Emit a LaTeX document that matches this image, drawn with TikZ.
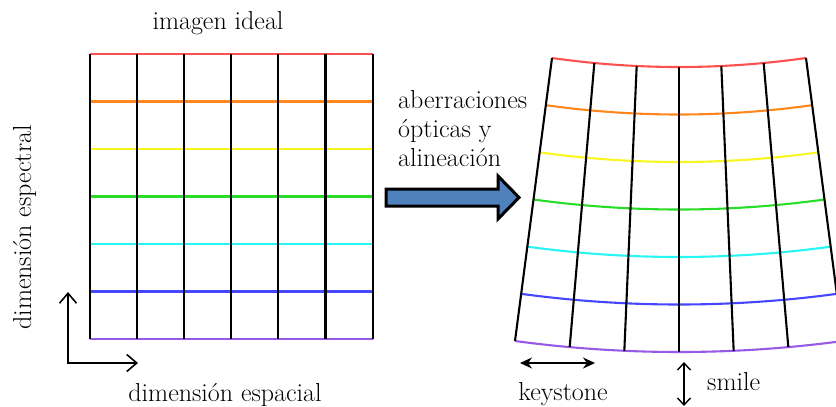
\documentclass[tikz,border=0pt]{standalone}
\usepackage{fontspec}
\usetikzlibrary{arrows.meta}
\definecolor{cred}{RGB}{255,80,80}
\definecolor{corange}{RGB}{255,135,30}
\definecolor{cyellow}{RGB}{250,245,30}
\definecolor{cgreen}{RGB}{40,220,40}
\definecolor{ccyan}{RGB}{40,245,245}
\definecolor{cblue}{RGB}{70,70,255}
\definecolor{cpurple}{RGB}{150,90,230}
\definecolor{arrowblue}{RGB}{79,129,189}
\begin{document}
\begin{tikzpicture}[x=1pt,y=-1pt,
  lbl/.style={font=\fontsize{26}{30}\selectfont, inner sep=0pt},
  gridline/.style={line width=2.1pt},
  axisarrow/.style={line width=1.6pt, {Straight Barb[length=10pt,width=17pt]}-{Straight Barb[length=10pt,width=17pt]}},
  keyarrow/.style={line width=1.5pt, {Stealth[length=12pt,width=11pt]}-{Stealth[length=12pt,width=11pt]}},
  smilearrow/.style={line width=1.4pt, {Straight Barb[length=7pt,width=13pt]}-{Straight Barb[length=7pt,width=13pt]}},
  bigarrow/.style={line width=3pt, fill=arrowblue, draw=black, line join=miter}]
\useasboundingbox (0,0) rectangle (836,407);
\clip (0,0) rectangle (836,407);

% left ideal grid
\foreach \c [count=\k from 0] in {cred,corange,cyellow,cgreen,ccyan,cblue,cpurple}
  \draw[gridline,\c] (90,{54+47.5*\k}) -- (373,{54+47.5*\k});
\foreach \k in {0,...,6}
  \draw[gridline,black] ({90+47.1*\k},54) -- ({90+47.1*\k},339);

% right distorted grid
\foreach \c [count=\k from 0] in {cred,corange,cyellow,cgreen,ccyan,cblue,cpurple}
  \draw[gridline,\c] plot[domain=-1:1,samples=41,smooth]
    ({679+(\x)*(127+37*\k/6)},{58+283*\k/6+(9+2*\k/6)*(1-(\x)*(\x))});
\foreach \i in {0,...,6}{
  \pgfmathsetmacro\u{(\i-3)/3}
  \draw[gridline,black] ({679+(\u)*127},{58+9*(1-(\u)*(\u))}) -- ({679+(\u)*164},{341+11*(1-(\u)*(\u))});
}

% axes
\coordinate (ay) at (68,292);
\coordinate (o) at (68,363);
\coordinate (ax) at (138,363);
\draw[axisarrow] (ay) -- (o) -- (ax);

% big arrow
\draw[bigarrow] (386,189) -- (498,189) -- (498,176) -- (519,197.5) -- (498,219) -- (498,206) -- (386,206) -- cycle;

% keystone and smile arrows
\coordinate (k1) at (520,363);
\coordinate (k2) at (595,363);
\draw[keyarrow] (k1) -- (k2);
\coordinate (s1) at (684,362);
\coordinate (s2) at (684,406);
\draw[smilearrow] (s1) -- (s2);

% texts
\node[lbl, anchor=base] (tideal) at (218,29) {imagen ideal};
\node[lbl, anchor=base] (tesp) at (225,401.5) {dimensión espacial};
\node[lbl, rotate=90, anchor=base] (tspec) at (31,227.5) {dimensión espectral};
\node[lbl, anchor=base west] (ab1) at (398,108) {aberraciones};
\node[lbl, anchor=base west] (ab2) at (398,137) {ópticas y};
\node[lbl, anchor=base west] (ab3) at (398,166.5) {alineación};
\node[lbl, anchor=base] (tkey) at (563,400) {keystone};
\node[lbl, anchor=base west] (tsmile) at (707,390) {smile};
\end{tikzpicture}
\end{document}
